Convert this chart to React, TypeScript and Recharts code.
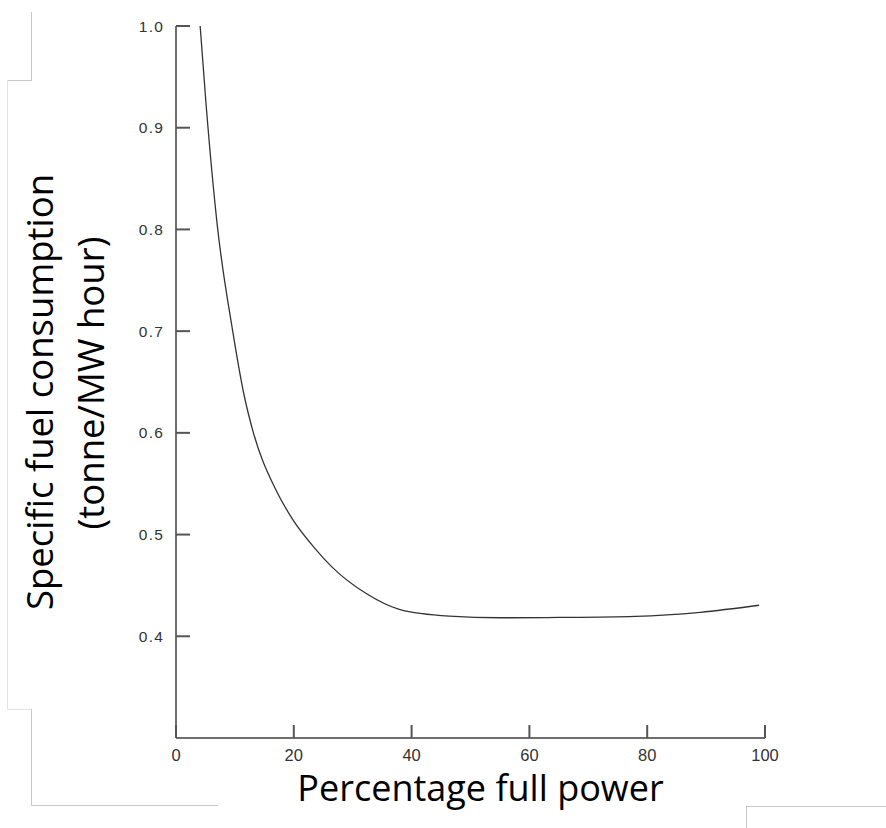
import React from "react"
import { LineChart, Line, XAxis, YAxis, Label } from "recharts"

const powerPct = [4.1, 5.05, 7.0, 9.6, 11.6, 13.0, 16.95, 19.8, 23.5, 26.5, 32.3, 37.9, 46.4, 55, 65, 78, 89, 99]
const fuelRate = [1.0, 0.927, 0.8045, 0.701, 0.636, 0.603, 0.544, 0.515, 0.487, 0.468, 0.442, 0.4265, 0.4198, 0.4182, 0.4185, 0.4196, 0.4236, 0.4305]
const xTicks = [0, 20, 40, 60, 80, 100]
const yTicks = [0.4, 0.5, 0.6, 0.7, 0.8, 0.9, 1.0]

const data = powerPct.map((p, i) => ({ power: p, fuel: fuelRate[i] }))

const tickFont = "'Liberation Sans', Arial, sans-serif"
const titleFont = "'Open Sans', 'Noto Sans', sans-serif"
const axisColor = "#6e6e6e"
const tickColor = "#555"

// ticks point inward, labels sit outside (x/y can come in as strings)
const YTick = (props: any) => {
  const x = Number(props.x)
  const y = Number(props.y)
  return (
    <g>
      <line x1={x + 12} x2={x + 26} y1={y} y2={y} stroke={tickColor} strokeWidth={2} />
      <text x={x} y={y} dy="0.36em" textAnchor="end" fontFamily={tickFont} fontSize={15.5} letterSpacing={1.2} fill="#333">
        {props.payload.value.toFixed(1)}
      </text>
    </g>
  )
}

const XTick = (props: any) => {
  const x = Number(props.x)
  const y = Number(props.y)
  return (
    <g>
      <line x1={x} x2={x} y1={y - 14} y2={y - 27} stroke={tickColor} strokeWidth={2} />
      <text x={x} y={y + 9} textAnchor="middle" fontFamily={tickFont} fontSize={16.5} fill="#333">
        {props.payload.value}
      </text>
    </g>
  )
}

const YTitle = (props: any) => {
  const { x, y, height } = props.viewBox
  const cy = y + height / 2
  return (
    <g fontFamily={titleFont} fontSize={36.5} fill="#000">
      <text x={x + 39} y={cy + 10} textAnchor="middle" dominantBaseline="central" transform={`rotate(-90 ${x + 39} ${cy + 10})`}>
        Specific fuel consumption
      </text>
      <text x={x + 90} y={cy + 1} textAnchor="middle" dominantBaseline="central" transform={`rotate(-90 ${x + 90} ${cy + 1})`}>
        (tonne/MW hour)
      </text>
    </g>
  )
}

const XTitle = (props: any) => {
  const { x, y, width } = props.viewBox
  return (
    <text x={x + width / 2 + 10} y={y + 63} textAnchor="middle" fontFamily={titleFont} fontSize={36} fill="#000">
      Percentage full power
    </text>
  )
}

// faint edges of the pasted picture
const edge = (style: React.CSSProperties) => <div style={{ position: "absolute", background: "#c8c8c8", ...style }} />

export default function App() {
  return (
    <div style={{ position: "absolute", left: 0, top: 0, width: 886, height: 828, background: "#fff" }}>
      {edge({ left: 31, top: 12, width: 1, height: 68 })}
      {edge({ left: 7, top: 80, width: 25, height: 1 })}
      {edge({ left: 7, top: 80, width: 1, height: 630, background: "#e2e2e2" })}
      {edge({ left: 7, top: 709, width: 25, height: 1, background: "#e2e2e2" })}
      {edge({ left: 31, top: 709, width: 1, height: 96 })}
      {edge({ left: 31, top: 805, width: 187, height: 1 })}
      {edge({ left: 746, top: 806, width: 1, height: 22 })}
      {edge({ left: 746, top: 806, width: 140, height: 1 })}
      <LineChart width={886} height={828} data={data} margin={{ top: 26, right: 121, bottom: 0, left: 0 }}>
        <XAxis
          dataKey="power"
          type="number"
          domain={[0, 100]}
          ticks={xTicks}
          height={90}
          stroke={axisColor}
          strokeWidth={2}
          tickLine={false}
          tickSize={0}
          tickMargin={14}
          tick={XTick}
          interval={0}
        >
          <Label content={XTitle} />
        </XAxis>
        <YAxis
          type="number"
          domain={[0.3, 1.0]}
          ticks={yTicks}
          width={176}
          stroke={axisColor}
          strokeWidth={2}
          tickLine={false}
          tickSize={0}
          tickMargin={12}
          tick={YTick}
          interval={0}
        >
          <Label content={YTitle} />
        </YAxis>
        <Line
          type="monotone"
          dataKey="fuel"
          stroke="#333"
          strokeWidth={1.3}
          dot={false}
          isAnimationActive={false}
        />
      </LineChart>
    </div>
  )
}
